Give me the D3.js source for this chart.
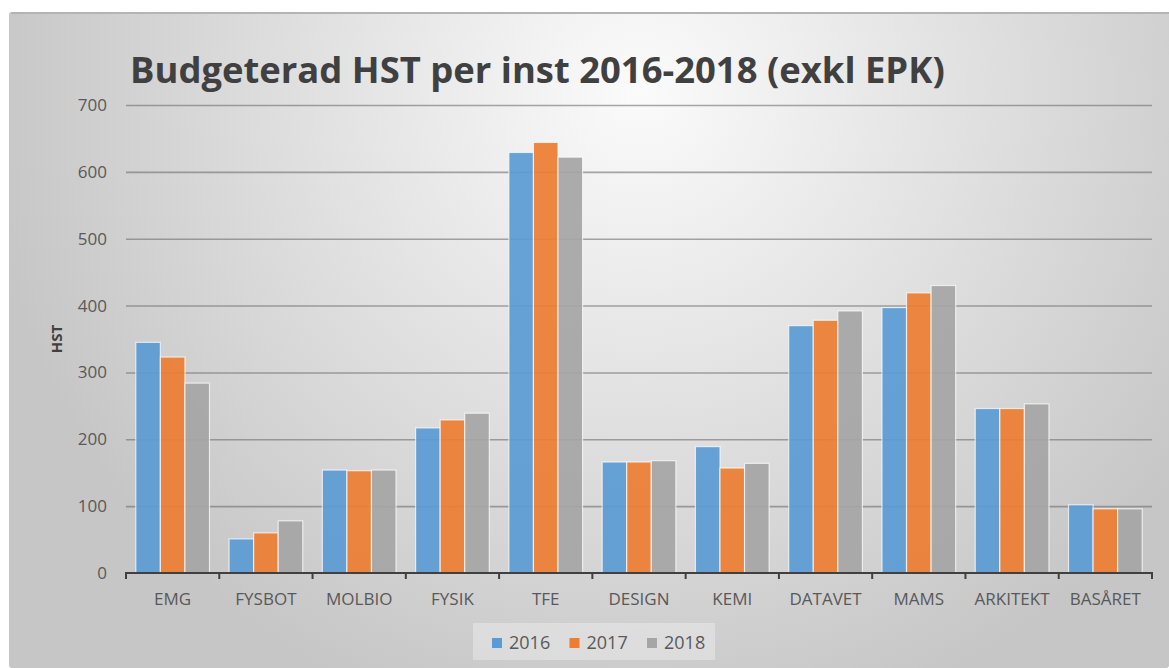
<!DOCTYPE html>
<html>
<head>
<meta charset="utf-8">
<script src="https://cdn.jsdelivr.net/npm/d3@7"></script>
<style>
  body { margin: 0; background: #fff; }
  svg { display: block; }
</style>
</head>
<body>
<div id="chart-area"></div>
<script>
// data
const categories = ["EMG", "FYSBOT", "MOLBIO", "FYSIK", "TFE", "DESIGN", "KEMI", "DATAVET", "MAMS", "ARKITEKT", "BASÅRET"];
const seriesNames = ["2016", "2017", "2018"];
const values2016 = [345, 51, 154, 217, 629, 166, 189, 370, 397, 246, 102];
const values2017 = [323, 60, 153, 229, 644, 166, 157, 378, 419, 246, 96];
const values2018 = [284, 78, 154, 239, 622, 168, 164, 392, 430, 253, 96];
const yTicks = [0, 100, 200, 300, 400, 500, 600, 700];
const colors = ["#5b9bd5", "#ed7d31", "#a5a5a5"];

const allSeries = [values2016, values2017, values2018];
const table = categories.map((c, i) => ({
  category: c,
  values: seriesNames.map((s, j) => ({ series: s, value: allSeries[j][i] }))
}));

const canvasWidth = 1169;
const canvasHeight = 668;
const margin = { left: 126, top: 105, right: 17, bottom: 95 };
const chartWidth = canvasWidth - margin.left - margin.right;
const chartHeight = canvasHeight - margin.top - margin.bottom;

const canvas = d3.select("#chart-area").append("svg")
  .attr("width", canvasWidth)
  .attr("height", canvasHeight);

// panel background (soft radial gradient like the office theme)
const defs = canvas.append("defs");
const grad = defs.append("radialGradient")
  .attr("id", "bg")
  .attr("gradientUnits", "userSpaceOnUse")
  .attr("cx", 640).attr("cy", 90).attr("r", 660);
grad.append("stop").attr("offset", "0%").attr("stop-color", "#fbfbfb");
grad.append("stop").attr("offset", "100%").attr("stop-color", "#c6c6c6");

canvas.append("rect")
  .attr("x", 9).attr("y", 12)
  .attr("width", canvasWidth - 9).attr("height", canvasHeight - 12)
  .attr("rx", 3)
  .attr("fill", "url(#bg)");
canvas.append("line")
  .attr("x1", 11).attr("x2", canvasWidth)
  .attr("y1", 13).attr("y2", 13)
  .attr("stroke", "#b4b4b4")
  .attr("stroke-width", 2);

// title, fitted to the width it has in the reference
const title = canvas.append("text")
  .attr("x", 130)
  .attr("y", 83)
  .attr("font-family", "'Open Sans', sans-serif")
  .attr("font-weight", "bold")
  .attr("font-size", "34px")
  .attr("fill", "#404040")
  .text("Budgeterad HST per inst 2016-2018 (exkl EPK)");
const titleWidth = title.node().getComputedTextLength();
title.attr("font-size", (34 * 815 / titleWidth).toFixed(2) + "px");

const chartGroup = canvas.append("g")
  .attr("transform", `translate(${margin.left}, ${margin.top})`);

const yScale = d3.scaleLinear().domain([0, 700]).range([chartHeight, 0]);
const xScale = d3.scaleBand().domain(categories).range([0, chartWidth]).padding(0);
const innerScale = d3.scaleBand().domain(seriesNames)
  .range([xScale.bandwidth() * 0.105, xScale.bandwidth() * 0.895])
  .padding(0);

// gridlines + y labels
const yAxis = d3.axisLeft(yScale)
  .tickValues(yTicks)
  .tickSize(-chartWidth)
  .tickPadding(19);
const yAxisGroup = chartGroup.append("g").call(yAxis);
yAxisGroup.select(".domain").remove();
yAxisGroup.selectAll(".tick line")
  .attr("stroke", "#6e6e6e")
  .attr("stroke-opacity", 0.6)
  .attr("stroke-width", 1.6)
  .filter(d => d === 0).remove();
yAxisGroup.selectAll(".tick text")
  .attr("font-family", "'Open Sans', sans-serif")
  .attr("font-size", "17px")
  .attr("fill", "#595959");

chartGroup.append("text")
  .attr("transform", `translate(-64, ${yScale(350)}) rotate(-90)`)
  .attr("text-anchor", "middle")
  .attr("font-family", "'Open Sans', sans-serif")
  .attr("font-weight", "bold")
  .attr("font-size", "15px")
  .attr("fill", "#404040")
  .text("HST");

// bars
const groups = chartGroup.selectAll(".cat")
  .data(table)
  .enter().append("g")
  .attr("class", "cat")
  .attr("transform", d => `translate(${xScale(d.category)}, 0)`);

groups.selectAll("rect")
  .data(d => d.values)
  .enter().append("rect")
  .attr("x", d => innerScale(d.series))
  .attr("width", innerScale.bandwidth())
  .attr("y", d => yScale(d.value))
  .attr("height", d => chartHeight - yScale(d.value))
  .attr("fill", (d, i) => colors[i])
  .attr("fill-opacity", 0.92)
  .attr("stroke", "#ffffff")
  .attr("stroke-opacity", 0.7)
  .attr("stroke-width", 1.2);

// x axis: labels centred in bands, tick marks on band edges
const xAxis = d3.axisBottom(xScale).tickSize(0).tickPadding(19.5);
const xAxisGroup = chartGroup.append("g")
  .attr("transform", `translate(0, ${chartHeight})`)
  .call(xAxis);
xAxisGroup.select(".domain").remove();
xAxisGroup.selectAll(".tick text")
  .attr("font-family", "'Open Sans', sans-serif")
  .attr("font-size", "17px")
  .attr("fill", "#595959");

const edges = categories.map(c => xScale(c)).concat([chartWidth]);
xAxisGroup.selectAll(".edge")
  .data(edges)
  .enter().append("line")
  .attr("class", "edge")
  .attr("x1", d => d).attr("x2", d => d)
  .attr("y1", 0).attr("y2", 6)
  .attr("stroke", "#404040")
  .attr("stroke-width", 2);
xAxisGroup.append("line")
  .attr("x1", -1).attr("x2", chartWidth + 1)
  .attr("y1", 0).attr("y2", 0)
  .attr("stroke", "#404040")
  .attr("stroke-width", 2.2);

// legend
const legend = canvas.append("g").attr("transform", "translate(473, 623)");
legend.append("rect")
  .attr("width", 242).attr("height", 37)
  .attr("fill", "#ffffff")
  .attr("fill-opacity", 0.3);
const legendItems = legend.selectAll(".item")
  .data(seriesNames)
  .enter().append("g")
  .attr("class", "item")
  .attr("transform", (d, i) => `translate(${19 + i * 77.5}, 0)`);
legendItems.append("rect")
  .attr("y", 15).attr("width", 10).attr("height", 10)
  .attr("fill", (d, i) => colors[i]);
legendItems.append("text")
  .attr("x", 17).attr("y", 25.5)
  .attr("font-family", "'Open Sans', sans-serif")
  .attr("font-size", "18px")
  .attr("fill", "#595959")
  .text(d => d);
</script>
</body>
</html>
